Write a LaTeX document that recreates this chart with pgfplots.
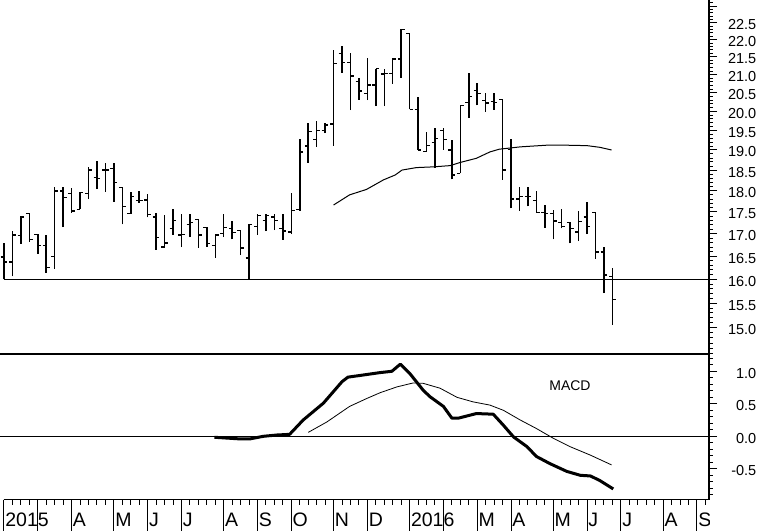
\documentclass[border=0pt]{standalone}
\usepackage{fontspec}
\setmainfont{Liberation Sans}
\usepackage{pgfplots}
\usepackage{pgfplotstable}
\pgfplotsset{compat=1.18}

% weekly OHLC bars, week 0 = start of Feb 2015
\pgfplotstableread{
w O H L C
0 16.48 16.78 16.00 16.37
1 16.37 17.06 16.06 16.97
2 16.95 17.40 16.77 17.38
3 17.46 17.47 16.82 16.87
4 16.98 17.00 16.55 16.73
5 16.73 16.97 16.14 16.25
6 16.50 18.08 16.23 17.99
7 17.99 18.08 17.15 17.84
8 17.94 18.06 17.48 17.52
9 17.56 17.98 17.56 17.96
10 17.94 18.57 17.80 18.50
11 18.32 18.73 18.04 18.30
12 18.50 18.67 17.98 18.50
13 18.54 18.67 17.74 18.20
14 18.08 18.08 17.21 17.63
15 17.46 17.98 17.46 17.86
16 17.76 17.99 17.71 17.76
17 17.78 17.92 17.37 17.44
18 17.38 17.48 16.64 16.92
19 16.70 17.42 16.70 16.79
20 17.12 17.56 16.97 17.31
21 16.97 17.46 16.70 16.98
22 17.21 17.46 16.92 17.26
23 17.33 17.33 16.68 16.97
24 17.14 17.14 16.71 16.78
25 16.73 16.97 16.46 16.97
26 17.00 17.46 16.92 17.14
27 17.12 17.29 16.87 17.03
28 17.08 17.08 16.52 16.68
29 16.46 17.21 16.00 17.21
30 17.17 17.46 16.98 17.42
31 17.30 17.46 17.06 17.42
32 17.38 17.46 17.08 17.31
33 17.12 17.46 16.86 17.06
34 17.04 17.94 16.99 17.54
35 17.56 19.28 17.52 18.95
36 19.10 19.70 18.68 19.48
37 19.26 19.75 19.08 19.49
38 19.50 19.69 19.43 19.64
39 19.67 21.71 19.11 21.32
40 21.60 21.81 21.05 21.34
41 21.34 21.62 20.03 20.96
42 20.82 20.90 20.31 20.55
43 20.47 21.46 20.30 20.71
44 20.71 21.17 20.14 21.17
45 21.02 21.17 20.14 21.04
46 21.04 21.46 20.75 21.44
47 21.44 22.32 20.92 22.30
48 22.19 22.19 20.05 20.05
49 20.05 20.38 19.00 19.00
50 18.97 19.47 18.95 19.12
51 19.20 19.56 18.56 19.29
52 19.51 19.56 19.00 19.26
53 19.00 19.25 18.27 18.38
54 18.42 20.16 18.42 20.16
55 20.23 21.04 19.84 20.39
56 20.57 20.76 20.16 20.48
57 20.28 20.49 19.99 20.22
58 20.26 20.48 20.04 20.23
59 20.32 20.32 18.26 18.50
60 19.01 19.27 17.58 17.80
61 17.80 18.08 17.52 17.87
62 17.87 18.08 17.63 17.86
63 17.76 17.99 17.48 17.48
64 17.48 17.66 17.13 17.46
65 17.46 17.54 16.87 17.29
66 17.26 17.56 17.12 17.17
67 17.26 17.27 16.78 17.12
68 17.04 17.53 16.83 17.27
69 17.38 17.72 16.99 17.17
70 17.48 17.48 16.44 16.59
71 16.59 16.70 15.71 16.09
72 16.06 16.25 15.06 15.57
}\ohlc

\pgfplotsset{
  common/.style={scale only axis, width=709pt, xmin=-0.473, xmax=83.43,
    tick style={black, line width=1pt}},
  rightaxis/.style={axis y line*=right, axis line style={-, black, line width=1.1pt},
    tick align=outside, major tick length=8pt, minor tick length=3.5pt,
    yticklabel style={anchor=east, inner sep=0pt, xshift=39.5pt, yshift=-2pt,
      font=\fontsize{14.5}{14.5}\selectfont}},
  barline/.style={black, line width=1.5pt},
  tickline/.style={black, line width=1.2pt},
}
\tikzset{lbl/.style={anchor=base west, inner sep=0pt, xshift=1.2pt, yshift=5pt,
    font=\fontsize{19.5}{19.5}\selectfont}}

\begin{document}
\begin{tikzpicture}
\useasboundingbox (0,0) rectangle (760pt,531pt);

% ---------------- price panel ----------------
\begin{axis}[common, rightaxis, at={(0pt,177pt)}, anchor=south west, height=354pt,
  ymode=log, ymin=14.488, ymax=23.19,
  axis x line*=bottom, xtick=\empty,
  ytick={15,15.5,16,16.5,17,17.5,18,18.5,19,19.5,20,20.5,21,21.5,22,22.5,23},
  yticklabels={15.0,15.5,16.0,16.5,17.0,17.5,18.0,18.5,19.0,19.5,20.0,20.5,21.0,21.5,22.0,22.5,{}},
  minor ytick={14.5,14.6,14.7,14.8,14.9,15.1,15.2,15.3,15.4,15.6,15.7,15.8,15.9,
    16.1,16.2,16.3,16.4,16.6,16.7,16.8,16.9,17.1,17.2,17.3,17.4,17.6,17.7,17.8,17.9,
    18.1,18.2,18.3,18.4,18.6,18.7,18.8,18.9,19.1,19.2,19.3,19.4,19.6,19.7,19.8,19.9,
    20.1,20.2,20.3,20.4,20.6,20.7,20.8,20.9,21.1,21.2,21.3,21.4,21.6,21.7,21.8,21.9,
    22.1,22.2,22.3,22.4,22.6,22.7,22.8,22.9,23.1},
]
\pgfplotsinvokeforeach{0,...,72}{%
  \pgfplotstablegetelem{#1}{O}\of\ohlc\let\vO\pgfplotsretval
  \pgfplotstablegetelem{#1}{H}\of\ohlc\let\vH\pgfplotsretval
  \pgfplotstablegetelem{#1}{L}\of\ohlc\let\vL\pgfplotsretval
  \pgfplotstablegetelem{#1}{C}\of\ohlc\let\vC\pgfplotsretval
  \pgfmathsetmacro\xl{#1-0.4}\pgfmathsetmacro\xr{#1+0.4}%
  \edef\tmp{\noexpand\addplot[barline] coordinates {(#1,\vL) (#1,\vH)};
    \noexpand\addplot[tickline] coordinates {(\xl,\vO) (#1,\vO)};
    \noexpand\addplot[tickline] coordinates {(#1,\vC) (\xr,\vC)};}\tmp
}
% moving average
\addplot[black, line width=1pt] coordinates {
(39.0,17.66) (40.9,17.90) (42.9,18.03) (44.9,18.26) (46.3,18.38) (47.1,18.50)
(48.8,18.56) (50.8,18.58) (52.8,18.61) (54.0,18.69) (55.9,18.79) (57.5,18.95)
(58.6,19.02) (61.1,19.08) (64.2,19.12) (66.6,19.12) (69.0,19.11) (70.5,19.07) (71.9,19.00)};
\addplot[black, line width=1.2pt] coordinates {(0,16) (83.43,16)};
\end{axis}

% ---------------- MACD panel ----------------
\begin{axis}[common, rightaxis, at={(0pt,31.5pt)}, anchor=south west, height=145.5pt,
  ymin=-0.9723, ymax=1.266,
  axis x line=none,
  ytick={-0.5,0,0.5,1}, yticklabels={-0.5,0.0,0.5,1.0},
  minor ytick={-0.9,-0.8,-0.7,-0.6,-0.4,-0.3,-0.2,-0.1,0.1,0.2,0.3,0.4,0.6,0.7,0.8,0.9,1.1,1.2},
]
\addplot[black, line width=1.2pt] coordinates {(-0.473,0) (83.43,0)};
\addplot[black, line width=3pt, line join=round] coordinates {
(24.9,-0.015) (27.9,-0.04) (29.1,-0.04) (30.7,0.0) (32.3,0.02) (33.8,0.03)
(35.4,0.25) (37.8,0.51) (39.0,0.69) (40.0,0.84) (40.7,0.91) (42.9,0.95)
(44.5,0.98) (45.9,1.0) (46.9,1.11) (48.0,0.97) (49.6,0.71) (50.4,0.61)
(52.0,0.46) (53.0,0.28) (53.8,0.28) (55.9,0.35) (57.9,0.34) (59.1,0.17)
(60.3,-0.01) (61.9,-0.16) (63.0,-0.31) (64.6,-0.42) (66.6,-0.54) (68.2,-0.60)
(69.4,-0.61) (70.5,-0.68) (72.1,-0.81)};
\addplot[black, line width=0.8pt] coordinates {
(36.0,0.06) (38.2,0.22) (40.9,0.46) (42.9,0.58) (44.5,0.67) (46.5,0.76)
(48.4,0.82) (49.6,0.815) (51.6,0.74) (53.6,0.60) (55.5,0.53) (57.5,0.48)
(59.1,0.40) (61.1,0.25) (63.0,0.12) (65.0,-0.03) (67.0,-0.16) (69.4,-0.29) (71.9,-0.44)};
\node[font=\fontsize{14}{14}\selectfont] at (axis cs:66.98,0.785) {MACD};
\end{axis}

% ---------------- date strip ----------------
\begin{axis}[common, at={(0pt,0pt)}, anchor=south west, height=31.5pt,
  ymin=0, ymax=1, axis y line=none, axis x line*=top,
  x axis line style={draw=none},
  xtick={0,4,8,13,17,21,26,30,34,39,43,48,52,56,60,65,69,73,78,82},
  minor xtick={0,...,83}, xticklabels={},
  tick align=inside, major tick length=31.5pt, minor tick length=5.5pt,
]
\addplot[black, line width=1.2pt] coordinates {(0,1) (83.43,1)};
\node[lbl] at (axis cs:0,0) {2015};
\node[lbl] at (axis cs:8,0) {A};
\node[lbl] at (axis cs:13,0) {M};
\node[lbl] at (axis cs:17,0) {J};
\node[lbl] at (axis cs:21,0) {J};
\node[lbl] at (axis cs:26,0) {A};
\node[lbl] at (axis cs:30,0) {S};
\node[lbl] at (axis cs:34,0) {O};
\node[lbl] at (axis cs:39,0) {N};
\node[lbl] at (axis cs:43,0) {D};
\node[lbl] at (axis cs:48,0) {2016};
\node[lbl] at (axis cs:56,0) {M};
\node[lbl] at (axis cs:60,0) {A};
\node[lbl] at (axis cs:65,0) {M};
\node[lbl] at (axis cs:69,0) {J};
\node[lbl] at (axis cs:73,0) {J};
\node[lbl] at (axis cs:78,0) {A};
\node[lbl] at (axis cs:82,0) {S};
\end{axis}
\end{tikzpicture}
\end{document}
